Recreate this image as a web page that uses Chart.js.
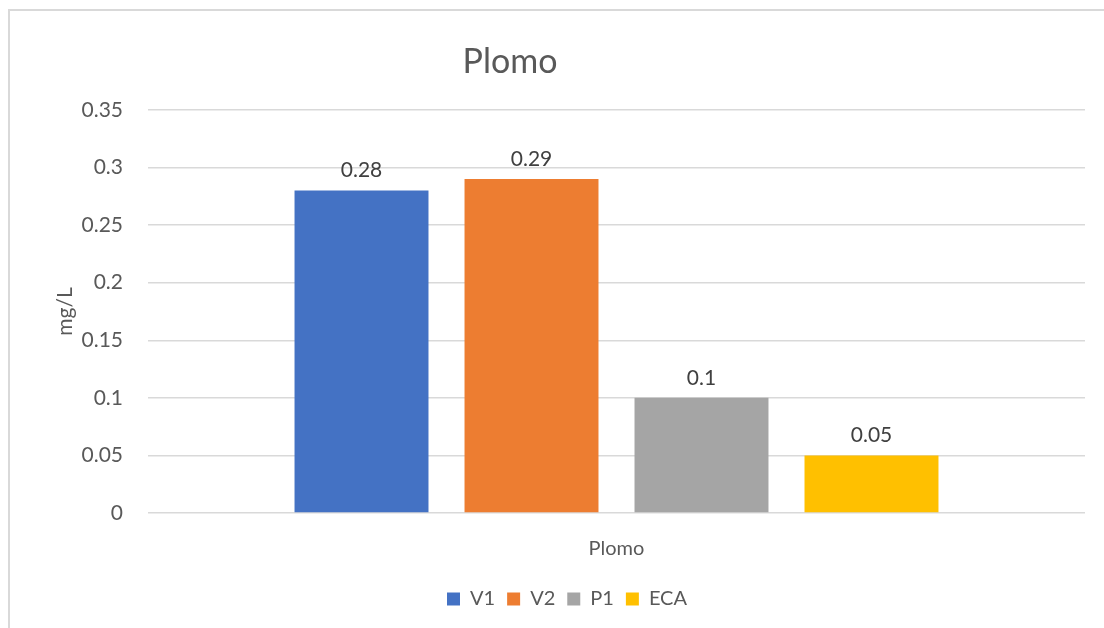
<!DOCTYPE html>
<html>
<head>
<meta charset="utf-8">
<script src="https://cdn.jsdelivr.net/npm/chart.js@4.4.1/dist/chart.umd.min.js"></script>
<style>
  html, body { margin: 0; padding: 0; background: #fff; overflow: hidden; }
  #frame { position: absolute; left: 8px; top: 9px; width: 1120px; height: 640px;
           border: 2px solid #d9d9d9; box-sizing: border-box; }
  #wrap { position: absolute; left: 0; top: 0; width: 1104px; height: 628px; }
</style>
</head>
<body>
<div id="frame"></div>
<div id="wrap"><canvas id="c" width="1104" height="628"></canvas></div>
<script>
// Lead concentration per sampling point
const categories = ['Plomo'];
const seriesNames = ['V1', 'V2', 'P1', 'ECA'];
const seriesValues = [[0.28], [0.29], [0.1], [0.05]];
const seriesColors = ['#4472C4', '#ED7D31', '#A5A5A5', '#FFC000'];
const yTicks = [0, 0.05, 0.1, 0.15, 0.2, 0.25, 0.3, 0.35];

const FONT = 'Lato, "Open Sans", sans-serif';

// Draws the value above each bar
const valueLabels = {
  id: 'valueLabels',
  afterDatasetsDraw(chart) {
    const ctx = chart.ctx;
    ctx.save();
    ctx.font = '21px ' + FONT;
    ctx.fillStyle = '#404040';
    ctx.textAlign = 'center';
    ctx.textBaseline = 'middle';
    chart.data.datasets.forEach((ds, i) => {
      const meta = chart.getDatasetMeta(i);
      meta.data.forEach((bar, j) => {
        ctx.fillText(String(ds.data[j]), bar.x, bar.y - 20);
      });
    });
    ctx.restore();
  }
};

// Chart heading
const heading = {
  id: 'heading',
  afterDraw(chart) {
    const ctx = chart.ctx;
    ctx.save();
    ctx.font = '34px ' + FONT;
    ctx.fillStyle = '#595959';
    ctx.textAlign = 'center';
    ctx.textBaseline = 'middle';
    ctx.fillText('Plomo', 510, 62);
    ctx.restore();
  }
};

new Chart(document.getElementById('c'), {
  type: 'bar',
  data: {
    labels: categories,
    datasets: seriesNames.map((name, i) => ({
      label: name,
      data: seriesValues[i],
      backgroundColor: seriesColors[i],
      categoryPercentage: 0.7257,
      barPercentage: 0.788
    }))
  },
  options: {
    responsive: false,
    animation: false,
    layout: { padding: { left: 49, right: 19, top: 110, bottom: 9 } },
    plugins: {
      title: { display: false },
      tooltip: { enabled: false },
      legend: {
        position: 'bottom',
        labels: {
          color: '#595959',
          font: { family: FONT, size: 20 },
          boxWidth: 13,
          boxHeight: 13,
          padding: 12
        }
      }
    },
    scales: {
      x: {
        grid: { display: false },
        border: { display: false },
        ticks: { color: '#595959', font: { family: FONT, size: 20 }, padding: 16 }
      },
      y: {
        min: 0,
        max: 0.35,
        afterBuildTicks(scale) { scale.ticks = yTicks.map(v => ({ value: v })); },
        afterFit(scale) { scale.width = 99; },
        grid: { color: '#d9d9d9', lineWidth: 1.5, drawTicks: false },
        border: { display: false },
        ticks: { color: '#595959', font: { family: FONT, size: 21 }, padding: 25,
                 callback: v => String(v) },
        title: { display: true, text: 'mg/L', color: '#595959',
                 font: { family: FONT, size: 21 }, padding: 4 }
      }
    }
  },
  plugins: [valueLabels, heading]
});
</script>
</body>
</html>
